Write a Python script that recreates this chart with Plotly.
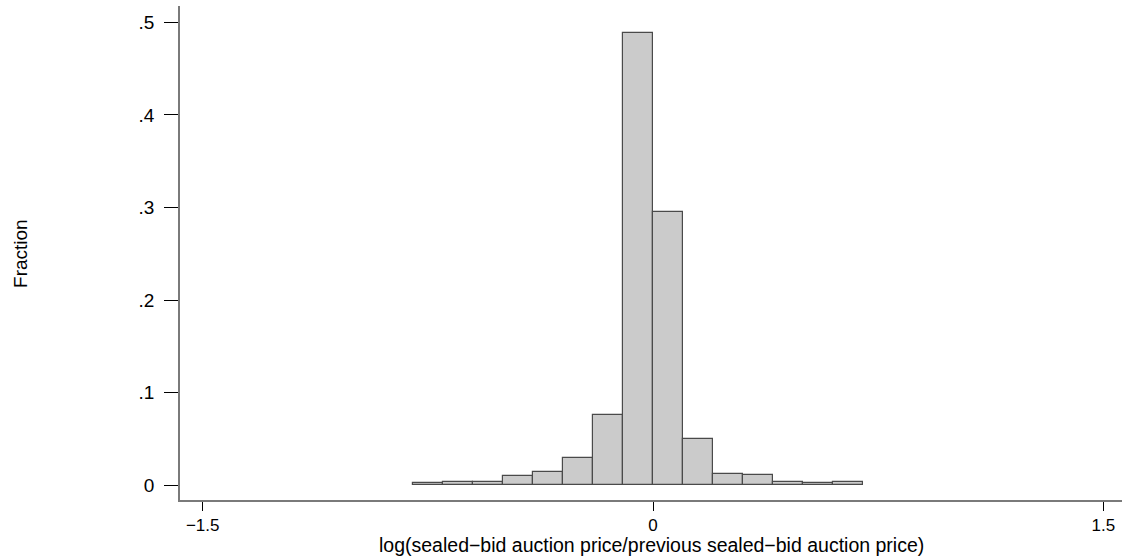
import plotly.graph_objects as go

# Histogram bins of width 0.1 (left edges) and the fraction of auctions in each
bin_left = [-0.8, -0.7, -0.6, -0.5, -0.4, -0.3, -0.2, -0.1,
            0.0, 0.1, 0.2, 0.3, 0.4, 0.5, 0.6]
fraction = [0.002, 0.004, 0.004, 0.010, 0.014, 0.029, 0.076, 0.489,
            0.295, 0.050, 0.012, 0.011, 0.004, 0.002, 0.004]
bin_width = 0.1

x_ticks = [-1.5, 0, 1.5]
x_tick_text = ["\u22121.5", "0", "1.5"]
y_ticks = [0, 0.1, 0.2, 0.3, 0.4, 0.5]
y_tick_text = ["0", ".1", ".2", ".3", ".4", ".5"]

centers = [b + bin_width / 2 for b in bin_left]

FONT = "Liberation Sans, Arial, Helvetica, sans-serif"

fig = go.Figure(
    go.Bar(
        x=centers,
        y=fraction,
        width=[bin_width] * len(centers),
        marker=dict(color="#cbcbcb", line=dict(color="#4a4a4a", width=1.2)),
        hoverinfo="x+y",
    )
)

fig.update_layout(
    width=1122,
    height=556,
    margin=dict(l=180, r=0, t=6, b=56),
    paper_bgcolor="white",
    plot_bgcolor="white",
    showlegend=False,
    bargap=0,
    font=dict(family=FONT, size=19, color="black"),
    xaxis=dict(
        range=[-1.5756, 1.5623],
        tickvals=x_ticks,
        ticktext=x_tick_text,
        ticks="outside",
        ticklen=9,
        tickwidth=1,
        tickcolor="black",
        showline=True,
        linecolor="#7a7a7a",
        linewidth=1.5,
        showgrid=False,
        zeroline=False,
        tickfont=dict(size=17),
    ),
    yaxis=dict(
        range=[-0.01587, 0.5177],
        tickvals=y_ticks,
        ticktext=y_tick_text,
        ticks="outside",
        ticklen=14,
        tickwidth=1,
        tickcolor="black",
        showline=True,
        linecolor="#7a7a7a",
        linewidth=1.5,
        showgrid=False,
        zeroline=False,
        tickfont=dict(size=19),
        ticklabelstandoff=6,
    ),
    annotations=[
        dict(
            text="log(sealed\u2212bid auction price/previous sealed\u2212bid auction price)",
            xref="paper", yref="paper", x=0.5, y=-0.091,
            xanchor="center", yanchor="middle", showarrow=False,
            font=dict(size=19.5),
        ),
        dict(
            text="Fraction",
            xref="paper", yref="paper", x=-0.1699, y=0.5,
            xanchor="center", yanchor="middle", showarrow=False,
            textangle=-90, font=dict(size=19),
        ),
    ],
)

fig.write_html("out.html")
